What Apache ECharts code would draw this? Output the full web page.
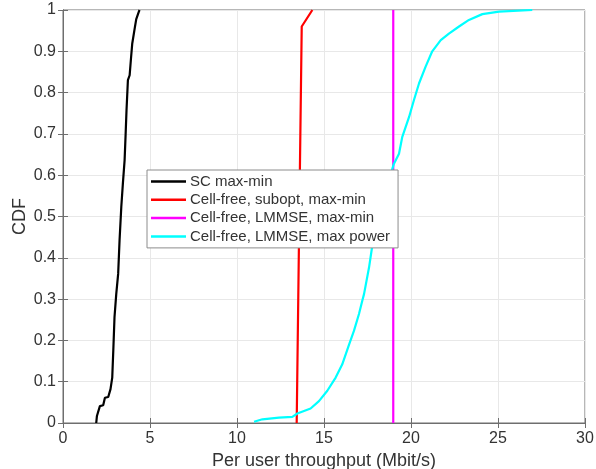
<!DOCTYPE html>
<html><head><meta charset="utf-8">
<script src="https://cdn.jsdelivr.net/npm/echarts@6/dist/echarts.min.js"></script>
<style>html,body{margin:0;padding:0;background:#fff}#c{width:596px;height:469px}</style>
</head><body><div id="c"></div>
<script>
const seriesNames = ['SC max-min', 'Cell-free, subopt, max-min', 'Cell-free, LMMSE, max-min', 'Cell-free, LMMSE, max power'];
const seriesColors = ['#000000', '#ff0000', '#ff00ff', '#00ffff'];
const xTicks = [0, 5, 10, 15, 20, 25, 30];
const yTicks = [0, 0.1, 0.2, 0.3, 0.4, 0.5, 0.6, 0.7, 0.8, 0.9, 1];

const scMaxMin = [[1.91,0],[1.95,0.017],[2.03,0.02],[2.12,0.041],[2.31,0.043],[2.41,0.061],[2.60,0.063],[2.73,0.082],[2.83,0.11],[2.89,0.175],[2.96,0.256],[3.06,0.312],[3.17,0.361],[3.25,0.442],[3.35,0.523],[3.44,0.579],[3.54,0.636],[3.60,0.70],[3.65,0.757],[3.73,0.83],[3.83,0.842],[3.90,0.879],[3.98,0.919],[4.13,0.958],[4.21,0.978],[4.36,0.996],[4.40,1]];
const cfSubopt = [[13.43,0],[13.58,0.5],[13.72,0.96],[14.33,1]];
const cfLmmseMaxMin = [[18.98,0],[18.98,1]];
const cfLmmseMaxPower = [[10.98,0.003],[11.46,0.009],[12.41,0.013],[13.18,0.015],[13.47,0.023],[14.23,0.035],[14.71,0.053],[15.19,0.078],[15.67,0.11],[16.05,0.142],[16.44,0.19],[16.72,0.223],[17.01,0.264],[17.20,0.296],[17.30,0.312],[17.59,0.377],[17.76,0.425],[17.87,0.458],[18.1,0.5],[18.5,0.56],[18.93,0.616],[19.02,0.628],[19.31,0.652],[19.5,0.693],[19.89,0.741],[20.17,0.782],[20.46,0.822],[20.84,0.863],[21.22,0.9],[21.71,0.927],[22.18,0.943],[22.76,0.96],[23.33,0.976],[24.10,0.99],[25.06,0.996],[26.97,1]];
const allData = [scMaxMin, cfSubopt, cfLmmseMaxMin, cfLmmseMaxPower];

const font = 'Liberation Sans, Arial, Helvetica, sans-serif';
const txt = '#333333';
const axisCol = '#6e6e6e';

const chart = echarts.init(document.getElementById('c'), null, {renderer: 'canvas'});
const xMin = xTicks[0], xMax = xTicks[xTicks.length - 1];
const yMin = yTicks[0], yMax = yTicks[yTicks.length - 1];

chart.setOption({
  animation: false,
  backgroundColor: '#ffffff',
  grid: {left: 63, right: 11, top: 10, bottom: 46, show: true, borderColor: axisCol, borderWidth: 1,
    containLabel: false, outerBoundsMode: 'none'},
  legend: {
    orient: 'vertical', left: 147, top: 170, z: 20, zlevel: 1,
    data: seriesNames.map((n, i) => ({name: n, icon: 'rect', itemStyle: {color: seriesColors[i]}})),
    itemWidth: 35, itemHeight: 2.5, itemGap: 3.3,
    backgroundColor: '#ffffff', borderColor: '#8c8c8c', borderWidth: 1,
    padding: [4, 8, 4, 4],
    textStyle: {fontFamily: font, fontSize: 15, color: txt, lineHeight: 15, padding: [0, 0, 0, -1]}
  },
  xAxis: [{
    type: 'value', min: xMin, max: xMax, interval: 5,
    name: 'Per user throughput (Mbit/s)', nameLocation: 'middle', nameGap: 29,
    nameTextStyle: {fontFamily: font, fontSize: 18, color: txt},
    axisLine: {show: true, lineStyle: {color: axisCol}},
    axisTick: {show: true, inside: true, length: 5, lineStyle: {color: axisCol}},
    axisLabel: {fontFamily: font, fontSize: 16, color: txt, margin: 8},
    splitLine: {show: true, lineStyle: {color: '#e8e8e8', width: 1}}
  }, {
    type: 'value', min: xMin, max: xMax, interval: 5, position: 'top',
    axisLine: {show: true, lineStyle: {color: axisCol}},
    axisTick: {show: true, inside: true, length: 5, lineStyle: {color: axisCol}},
    axisLabel: {show: false}, splitLine: {show: false}
  }],
  yAxis: [{
    type: 'value', min: yMin, max: yMax, interval: 0.1,
    name: 'CDF', nameLocation: 'middle', nameGap: 34, nameMoveOverlap: false,
    nameTextStyle: {fontFamily: font, fontSize: 18, color: txt},
    axisLine: {show: true, lineStyle: {color: axisCol}},
    axisTick: {show: true, inside: true, length: 5, lineStyle: {color: axisCol}},
    axisLabel: {fontFamily: font, fontSize: 16, color: txt, margin: 7,
      formatter: v => (Math.round(v * 10) / 10).toString()},
    splitLine: {show: true, lineStyle: {color: '#e8e8e8', width: 1}}
  }, {
    type: 'value', min: yMin, max: yMax, interval: 0.1, position: 'right',
    axisLine: {show: true, lineStyle: {color: axisCol}},
    axisTick: {show: true, inside: true, length: 5, lineStyle: {color: axisCol}},
    axisLabel: {show: false}, splitLine: {show: false}
  }],
  series: allData.map((d, i) => ({
    name: seriesNames[i], type: 'line', data: d, showSymbol: false, symbol: 'none',
    lineStyle: {color: seriesColors[i], width: 2.2}, itemStyle: {color: seriesColors[i]},
    xAxisIndex: 0, yAxisIndex: 0, z: 2 + i
  }))
});
</script></body></html>
